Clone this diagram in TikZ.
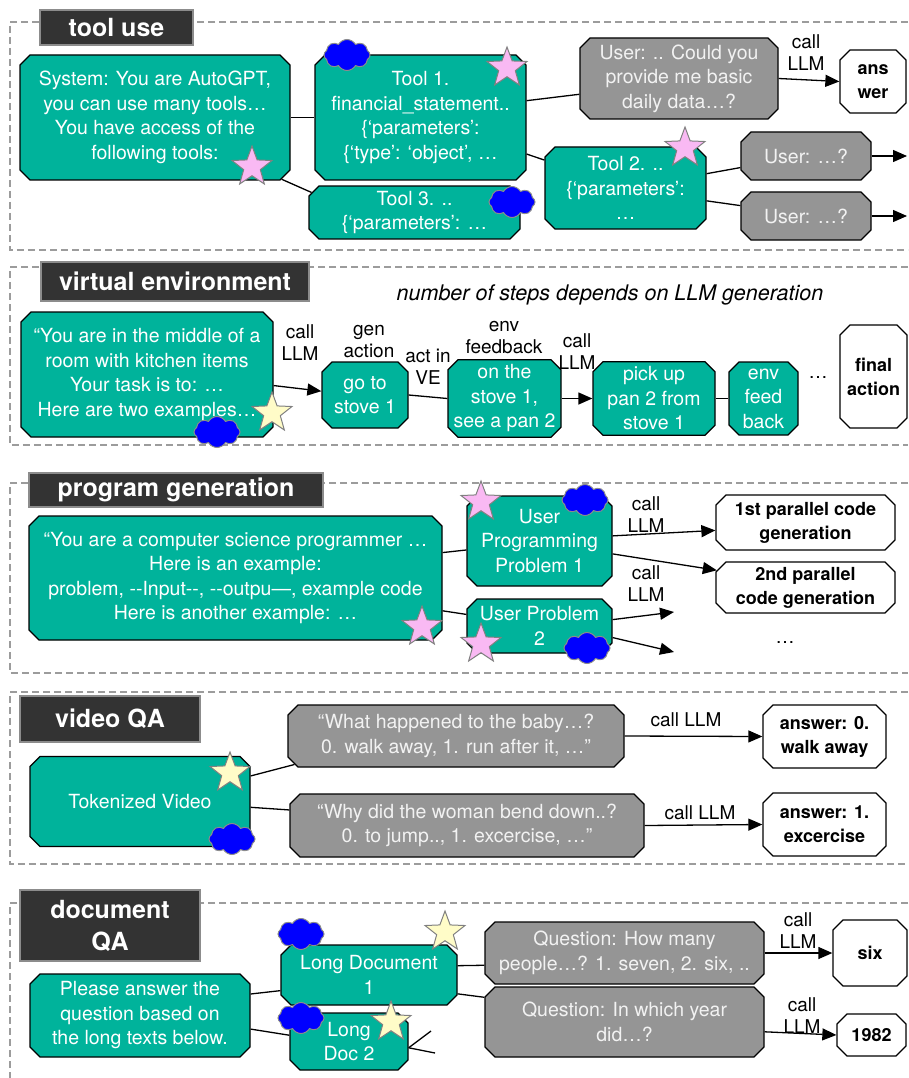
\documentclass[tikz,border=0pt]{standalone}
\usepackage{fontspec}
\setmainfont{TeX Gyre Heros}
\usetikzlibrary{shapes.misc,shapes.geometric,shapes.symbols,arrows.meta}

\definecolor{tealfill}{HTML}{00B39B}
\definecolor{qgray}{HTML}{959595}
\definecolor{titlegray}{HTML}{333333}
\definecolor{dashgray}{HTML}{9C9C9C}
\definecolor{starpink}{HTML}{F9B9F3}
\definecolor{staryellow}{HTML}{FFFCC8}

\tikzset{
  panel/.style={draw=dashgray, line width=1.2pt, dash pattern=on 7pt off 4pt},
  paneltitle/.style={fill=titlegray, draw=black!45, line width=1.2pt, text=white, inner sep=0pt, align=center, font=\fontsize{25}{32}\selectfont\bfseries},
  octbox/.style={chamfered rectangle, chamfered rectangle xsep=5pt, chamfered rectangle ysep=5pt, draw=black, line width=1.3pt, inner sep=0pt, align=center, font=\fontsize{19.5}{24.5}\selectfont},
  tealbox/.style={octbox, fill=tealfill, text=white},
  graybox/.style={octbox, fill=qgray, text=white!95!black},
  whitebox/.style={octbox, fill=white, text=black, font=\fontsize{18}{24}\selectfont\bfseries},
  lbl/.style={align=center, inner sep=0pt, font=\fontsize{19}{22}\selectfont},
  link/.style={draw=black, line width=1.3pt},
  flow/.style={link, -{Triangle[length=14pt,width=12pt]}},
  pinkstar/.style={star, star points=5, star point ratio=2.4, minimum size=42pt, inner sep=0pt, fill=starpink, draw=black!50, line width=1pt},
  ylwstar/.style={pinkstar, fill=staryellow},
  bluecloud/.style={cloud, cloud puffs=8, cloud puff arc=120, aspect=1.5, minimum width=46pt, minimum height=31pt, inner sep=0pt, fill=blue, draw=black!45, line width=1pt},
}

\begin{document}
\begin{tikzpicture}[x=1pt,y=-1pt]
\useasboundingbox (0,0) rectangle (908,1078);
\draw[panel] (908,22) -- (10,22) -- (10,250) -- (908,250);
\draw[panel] (908,267) -- (10,267) -- (10,445) -- (908,445);
\draw[panel] (908,483) -- (10,483) -- (10,673) -- (908,673);
\draw[panel] (908,692) -- (10,692) -- (10,864) -- (908,864);
\draw[panel] (908,903) -- (10,903) -- (10,1078);
\node[paneltitle, minimum width=153pt, minimum height=35pt] (ttool) at (116.5,27.5) {tool use};
\node[paneltitle, minimum width=268pt, minimum height=39pt] (tvenv) at (175,281.5) {virtual environment};
\node[paneltitle, minimum width=294pt, minimum height=34pt] (tprog) at (176,490) {program generation};
\node[paneltitle, minimum width=180pt, minimum height=46pt] (tvqa) at (110,719) {video QA};
\node[paneltitle, minimum width=180pt, minimum height=71pt] (tdqa) at (110,925.5) {document\\QA};

\node[tealbox, minimum width=270pt, minimum height=125pt] (sys) at (155,117.5) {System: You are AutoGPT,\\you can use many tools…\\You have access of the\\following tools:};
\node[tealbox, minimum width=211pt, minimum height=125pt] (tool1) at (420.5,117.5) {Tool 1.\\financial\_statement..\\\{‘parameters’:\\\{‘type’: ‘object’, …};
\node[tealbox, minimum width=211pt, minimum height=49pt] (tool3) at (414.5,212.5) {Tool 3. ..\\\{‘parameters’: …};
\node[tealbox, minimum width=161pt, minimum height=82pt] (tool2) at (625.5,188) {Tool 2. ..\\\{‘parameters’:\\…};
\node[graybox, minimum width=198pt, minimum height=81pt] (userq) at (679,78.5) {User: .. Could you\\provide me basic\\daily data…?};
\node[whitebox, minimum width=66pt, minimum height=63pt] (answer) at (873,81.5) {ans\\wer};
\node[graybox, minimum width=130pt, minimum height=48pt] (user1) at (806,156) {User: …?};
\node[graybox, minimum width=130pt, minimum height=48pt] (user2) at (806,216) {User: …?};
\coordinate (u1end) at (907,156);
\coordinate (u2end) at (907,216);
\draw[link] (sys.east) -- (tool1.west);
\draw[link] (sys.-26) -- (tool3.169);
\draw[link] (tool1.9) -- (userq.189);
\draw[link] (tool1.-19) -- (tool2.161);
\draw[link] (tool2.10) -- (user1.190);
\draw[link] (tool2.-9) -- (user2.171);
\draw[flow] (userq.east) -- (answer.west);
\draw[flow] (user1.east) -- (u1end);
\draw[flow] (user2.east) -- (u2end);
\node[lbl] (callA) at (806,53) {call\\LLM};
\node[pinkstar] (starsys) at (252,167) {};
\node[bluecloud] (cloudt1) at (347,55) {};
\node[pinkstar] (start1) at (507,68) {};
\node[bluecloud] (cloudt3) at (512,202) {};
\node[pinkstar] (start2) at (685,148) {};

\node[lbl, font=\fontsize{21.5}{24}\selectfont\itshape] (steps) at (610,295) {number of steps depends on LLM generation};
\node[tealbox, minimum width=252pt, minimum height=125pt] (room) at (147,374.5) {“You are in the middle of a\\room with kitchen items\\Your task is to: …\\Here are two examples…};
\node[tealbox, minimum width=86pt, minimum height=66pt] (goto) at (365,395) {go to\\stove 1};
\node[tealbox, minimum width=113pt, minimum height=73pt] (onstove) at (504.5,398.5) {on the\\stove 1,\\see a pan 2};
\node[tealbox, minimum width=122pt, minimum height=73pt] (pickup) at (654,398.5) {pick up\\pan 2 from\\stove 1};
\node[tealbox, minimum width=69pt, minimum height=73pt] (envfb) at (763.5,398.5) {env\\feed\\back};
\node[whitebox, minimum width=67pt, minimum height=103pt] (finalact) at (873.5,376.5) {final\\action};
\draw[flow] (room.-5) -- (goto.175);
\draw[link] (goto.east) -- (onstove.west);
\draw[flow] (onstove.east) -- (pickup.west);
\draw[link] (pickup.east) -- (envfb.west);
\node[lbl] (callB) at (300,343) {call\\LLM};
\node[lbl] (genact) at (369,342) {gen\\action};
\node[lbl] (actve) at (428,367) {act in\\VE};
\node[lbl] (envfbl) at (504,338) {env\\feedback};
\node[lbl] (callC) at (577,352) {call\\LLM};
\node[lbl] (dotsB) at (818,378) {…};
\node[ylwstar] (starroom) at (272,413) {};
\node[bluecloud] (cloudroom) at (217,432) {};

\node[tealbox, minimum width=413pt, minimum height=124pt] (coder) at (235.5,578) {“You are a computer science programmer …\\Here is an example:\\problem, -{}-Input-{}-, -{}-outpu—, example code\\Here is another example: …};
\node[tealbox, minimum width=145pt, minimum height=90pt] (prob1) at (539.5,541) {User\\Programming\\Problem 1};
\node[tealbox, minimum width=145pt, minimum height=54pt] (prob2) at (539.5,626) {User Problem\\2};
\node[whitebox, minimum width=179pt, minimum height=55pt] (code1) at (805.5,522.5) {1st parallel code\\generation};
\node[whitebox, minimum width=179pt, minimum height=49pt] (code2) at (805.5,587.5) {2nd parallel\\code generation};
\coordinate (p2end1) at (674,612);
\coordinate (p2end2) at (674,652);
\draw[link] (coder.7) -- (prob1.187);
\draw[link] (coder.-9) -- (prob2.171);
\draw[flow] (prob1.4) -- (code1.185);
\draw[flow] (prob1.-10) -- (code2.169);
\draw[flow] (prob2.5) -- (p2end1);
\draw[flow] (prob2.-9) -- (p2end2);
\node[lbl] (callD) at (646,515) {call\\LLM};
\node[lbl] (callE) at (646,584) {call\\LLM};
\node[lbl] (dotsC) at (785,643) {…};
\node[pinkstar] (starp1) at (481,502) {};
\node[pinkstar] (starp2) at (481,644) {};
\node[pinkstar] (starcoder) at (422,627) {};
\node[bluecloud] (cloudp1) at (585,500) {};
\node[bluecloud] (cloudp2) at (587,648) {};

\node[tealbox, minimum width=220pt, minimum height=90pt] (tokvid) at (140,801.5) {Tokenized Video};
\node[graybox, minimum width=336pt, minimum height=62pt] (vq1) at (456,736) {“What happened to the baby…?\\0. walk away, 1. run after it, …”};
\node[graybox, minimum width=354pt, minimum height=63pt] (vq2) at (467,825.5) {“Why did the woman bend down..?\\0. to jump.., 1. excercise, …”};
\node[whitebox, minimum width=123pt, minimum height=63pt] (va0) at (824.5,736.5) {answer: 0.\\walk away};
\node[whitebox, minimum width=123pt, minimum height=63pt] (va1) at (824.5,824.5) {answer: 1.\\excercise};
\draw[link] (tokvid.13) -- (vq1.190);
\draw[link] (tokvid.-3) -- (vq2.175);
\draw[flow] (vq1.east) -- (va0.west);
\draw[flow] (vq2.east) -- (va1.west);
\node[lbl] (callF) at (686,720) {call LLM};
\node[lbl] (callG) at (700,813) {call LLM};
\node[ylwstar] (starvid) at (230,773) {};
\node[bluecloud] (cloudvid) at (232,839) {};

\node[tealbox, minimum width=220pt, minimum height=83pt] (askdoc) at (140,1015.5) {Please answer the\\question based on\\the long texts below.};
\node[tealbox, minimum width=176pt, minimum height=60pt] (longdoc1) at (369,975) {Long Document\\1};
\node[tealbox, minimum width=118pt, minimum height=57pt] (longdoc2) at (349,1041.5) {Long\\Doc 2};
\node[graybox, minimum width=279pt, minimum height=62pt] (dq1) at (624.5,953) {Question: How many\\people…? 1. seven, 2. six, ..};
\node[graybox, minimum width=279pt, minimum height=70pt] (dq2) at (624.5,1022) {Question: In which year\\did…?};
\node[whitebox, minimum width=74pt, minimum height=66pt] (ansix) at (870,953) {six};
\node[whitebox, minimum width=69pt, minimum height=42pt] (ansyear) at (871.5,1035) {1982};
\coordinate (ld2end1) at (431,1031);
\coordinate (ld2end2) at (435,1053);
\draw[link] (askdoc.11) -- (longdoc1.190);
\draw[link] (askdoc.-7) -- (longdoc2.174);
\draw[link] (longdoc1.6) -- (dq1.185);
\draw[link] (longdoc1.-12) -- (dq2.170);
\draw[link] (longdoc2.-6) -- (ld2end1);
\draw[link] (longdoc2.-6) -- (ld2end2);
\draw[flow] (dq1.east) -- (ansix.west);
\draw[flow] (dq2.-4) -- (ansyear.west);
\node[lbl] (callH) at (798,931) {call\\LLM};
\node[lbl] (callI) at (802,1016) {call\\LLM};
\node[bluecloud] (cloudld1) at (301,934) {};
\node[bluecloud] (cloudld2) at (301,1018) {};
\node[ylwstar] (starld1) at (445,932) {};
\node[ylwstar] (starld2) at (391,1022) {};
\end{tikzpicture}
\end{document}
